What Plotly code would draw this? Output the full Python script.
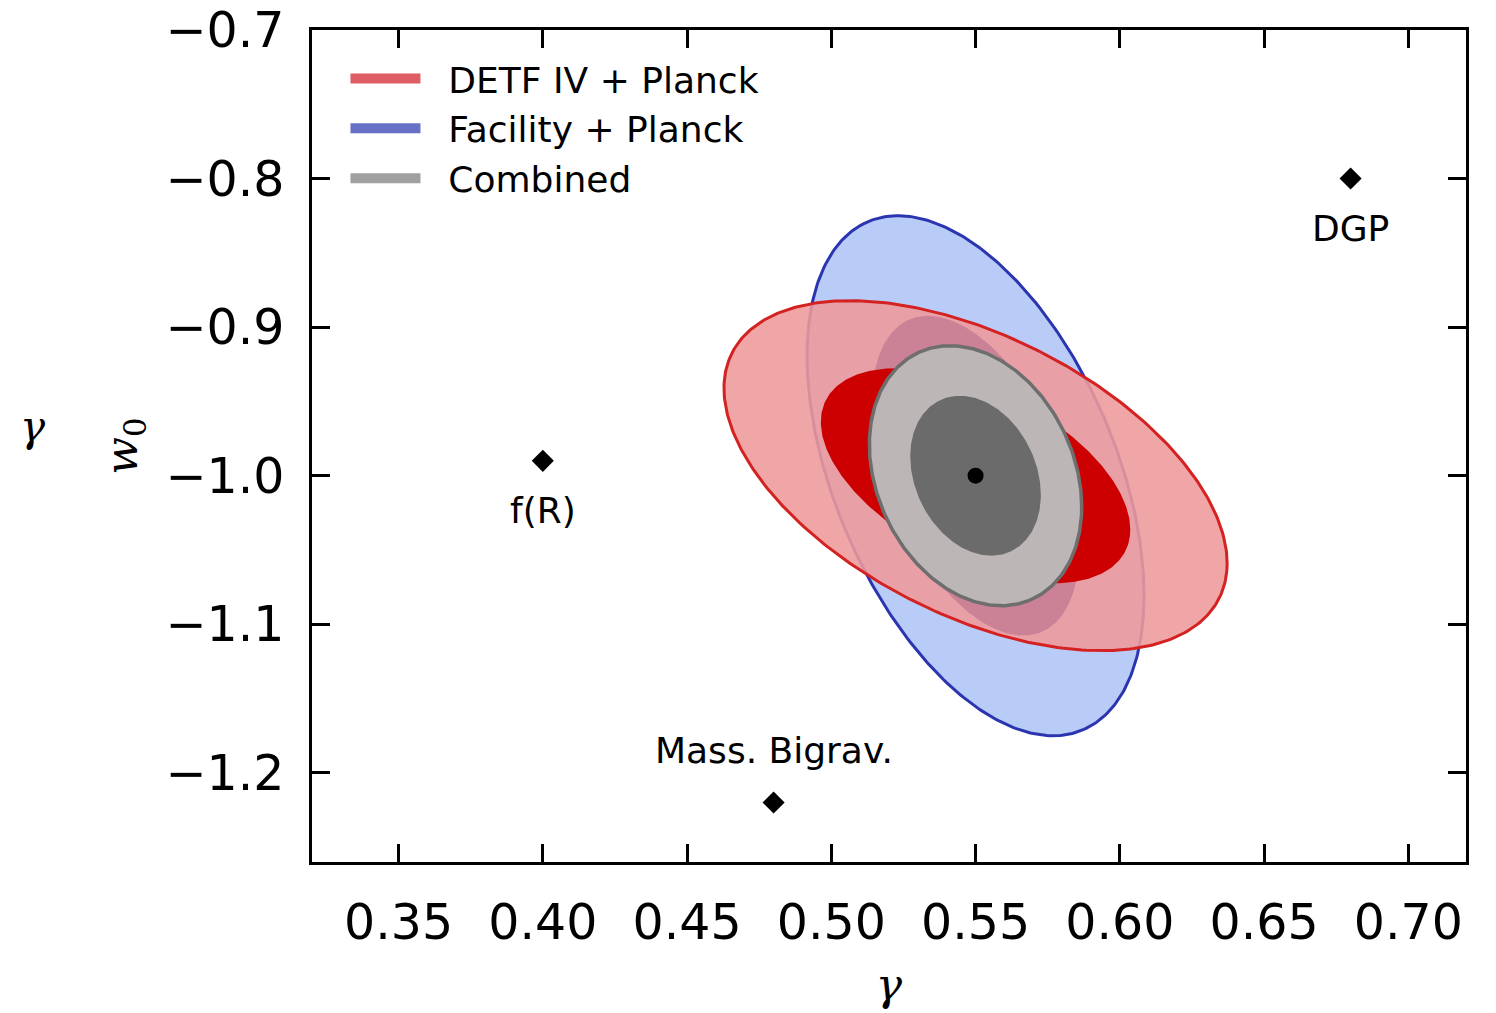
import numpy as np
import plotly.graph_objects as go

# ---------------- data ----------------
gamma_fid = 0.55
w0_fid = -1.0

# Fisher-ellipse parameters (outer = 2-sigma half extents, correlation)
contour_names = ["DETF IV + Planck", "Facility + Planck", "Combined"]
half_gamma_2sig = [0.0872, 0.0584, 0.0368]
half_w0_2sig = [0.1178, 0.1750, 0.0875]
corr = [-0.50, -0.46, -0.24]
inner_scale = 0.615  # 1-sigma / 2-sigma size ratio

model_names = ["f(R)", "DGP", "Mass. Bigrav."]
model_gamma = [0.40, 0.68, 0.48]
model_w0 = [-0.99, -0.80, -1.22]
model_label_side = ["below", "below", "above"]

x_ticks = [0.35, 0.40, 0.45, 0.50, 0.55, 0.60, 0.65, 0.70]
y_ticks = [-0.7, -0.8, -0.9, -1.0, -1.1, -1.2]

legend_colors = ["#df5d65", "#6670c4", "#a0a0a0"]


def ellipse(cx, cy, ax, ay, rho, n=361):
    t = np.linspace(0, 2 * np.pi, n)
    x = cx + ax * np.cos(t)
    y = cy + ay * (rho * np.cos(t) + np.sqrt(1 - rho ** 2) * np.sin(t))
    return x, y


fig = go.Figure()


def add_ell(i, scale, fill, line_color=None, line_width=0):
    x, y = ellipse(gamma_fid, w0_fid, half_gamma_2sig[i] * scale,
                   half_w0_2sig[i] * scale, corr[i])
    fig.add_trace(go.Scatter(
        x=x, y=y, mode="lines", fill="toself", fillcolor=fill,
        line=dict(color=line_color if line_color else "rgba(0,0,0,0)",
                  width=line_width),
        showlegend=False, hoverinfo="skip"))


# Facility outer
add_ell(1, 1.0, "#b9ccf8", "#2b35b0", 3)
# DETF outer (semi transparent)
add_ell(0, 1.0, "rgba(238,155,155,0.886)", "#d42222", 3)
# Facility inner
add_ell(1, inner_scale, "#cc8296")
# DETF inner
add_ell(0, inner_scale, "#cc0000")
# Combined outer / inner
add_ell(2, 1.0, "#bcb6b6", "#6e6e6e", 3.5)
add_ell(2, inner_scale, "#6b6b6b")

# fiducial point
fig.add_trace(go.Scatter(x=[gamma_fid], y=[w0_fid], mode="markers",
                         marker=dict(color="black", size=16),
                         showlegend=False, hoverinfo="skip"))

# alternative models
fig.add_trace(go.Scatter(x=model_gamma, y=model_w0, mode="markers",
                         marker=dict(symbol="diamond", color="black", size=17),
                         showlegend=False, hoverinfo="skip"))

for name, g, w, side in zip(model_names, model_gamma, model_w0, model_label_side):
    fig.add_annotation(x=g, y=w, text=name, showarrow=False,
                       yshift=(52 if side == "above" else -50),
                       font=dict(family="DejaVu Sans", size=36, color="black"))

# legend proxies
for name, c in zip(contour_names, legend_colors):
    fig.add_trace(go.Scatter(x=[None], y=[None], mode="lines",
                             line=dict(color=c, width=10),
                             name="\u00a0\u00a0" + name))

# stray glyph from the neighbouring panel
fig.add_annotation(xref="paper", yref="paper", x=-0.2547, y=0.524,
                   text="<i>γ</i>", showarrow=False,
                   font=dict(family="DejaVu Serif", size=42, color="black"))

axis_common = dict(
    showline=True, linecolor="black", linewidth=2.5, mirror="ticks",
    ticks="inside", ticklen=18, tickwidth=2.5, tickcolor="black",
    showgrid=False, zeroline=False, automargin=False,
    ticklabeloverflow="allow",
    tickfont=dict(family="DejaVu Sans", size=49, color="black"),
)

fig.update_layout(
    width=1488, height=1005,
    margin=dict(l=304, r=30, t=22, b=151),
    paper_bgcolor="white", plot_bgcolor="white",
    xaxis=dict(range=[0.32, 0.72], tickvals=x_ticks,
               ticktext=[f"{v:.2f}" for v in x_ticks],
               ticklabelstandoff=15,
               title=dict(text="<i>γ</i>", standoff=20,
                          font=dict(family="DejaVu Serif", size=44, color="black")),
               **axis_common),
    yaxis=dict(range=[-1.26, -0.7], tickvals=y_ticks, tickformat=".1f",
               ticklabelstandoff=15,
               title=dict(text="<i>w</i><sub>0</sub>", standoff=15,
                          font=dict(family="DejaVu Serif", size=44, color="black")),
               **axis_common),
    legend=dict(x=0.029, y=0.9776, xanchor="left", yanchor="top",
                bgcolor="rgba(0,0,0,0)", itemwidth=70,
                font=dict(family="DejaVu Sans", size=36, color="black"),
                tracegroupgap=0),
    showlegend=True,
)

fig.write_html("out.html")
